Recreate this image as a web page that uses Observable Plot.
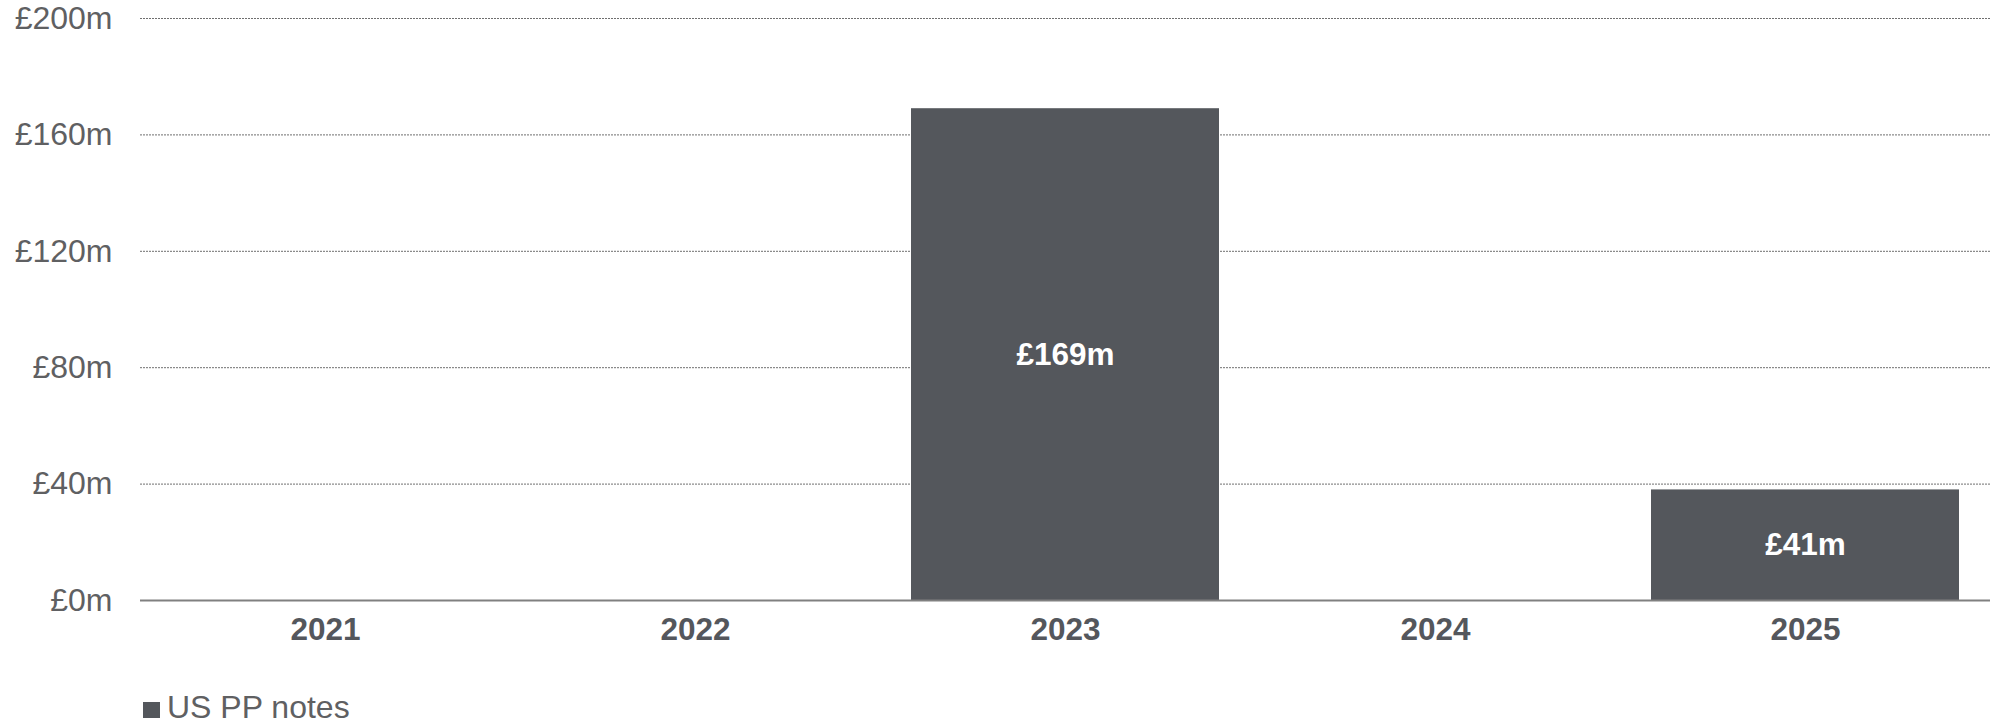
<!DOCTYPE html>
<html>
<head>
<meta charset="utf-8">
<script src="https://cdn.jsdelivr.net/npm/d3@7"></script>
<script src="https://cdn.jsdelivr.net/npm/@observablehq/plot@0.6"></script>
<style>
  html, body { margin: 0; padding: 0; background: #fff; }
  body { font-family: "Liberation Sans", Arial, sans-serif; width: 2003px; height: 723px; overflow: hidden; }
  #legend { position: absolute; left: 143px; top: 689px; display: flex; align-items: center; font-size: 32px; color: #5f6062; }
  #legend .sw { width: 17px; height: 16px; background: #54575c; margin-right: 7px; margin-top: 4px; }
</style>
</head>
<body>
<div id="chart"></div>
<div id="legend"><span class="sw"></span><span>US PP notes</span></div>
<script>
const years = ["2021", "2022", "2023", "2024", "2025"];
const values = [0, 0, 169, 0, 38];
const labels = ["", "", "£169m", "", "£41m"];
const yTicks = [0, 40, 80, 120, 160, 200];
const seriesName = "US PP notes";

const data = years.map((y, i) => ({year: y, value: values[i], label: labels[i], series: seriesName}));
const barData = data.filter(d => d.value > 0);

const chart = Plot.plot({
  width: 2003,
  height: 660,
  marginLeft: 140,
  marginRight: 13,
  marginTop: 18,
  marginBottom: 60,
  style: {fontFamily: "Liberation Sans, Arial, sans-serif", background: "#fff"},
  x: {domain: years, paddingInner: 0.168, paddingOuter: 0.084, label: null},
  y: {domain: [0, 200], label: null},
  marks: [
    Plot.ruleY(yTicks.filter(t => t > 0), {stroke: "#6f6f6f", strokeWidth: 1, strokeDasharray: "2,1"}),
    Plot.barY(barData, {x: "year", y: "value", fill: "#54575c"}),
    Plot.ruleY([0], {stroke: "#808080", strokeWidth: 2}),
    Plot.text(barData, {x: "year", y: d => d.value / 2, text: "label", fill: "#ffffff", fontWeight: "bold", fontSize: 31.5}),
    Plot.axisY({ticks: yTicks, tickFormat: d => `£${d}m`, tickSize: 0, tickPadding: 28, fontSize: 32, color: "#5f6062", label: null}),
    Plot.axisX({tickSize: 0, tickPadding: 17, fontSize: 31.5, fontWeight: "bold", color: "#54575c", label: null})
  ]
});
document.getElementById("chart").appendChild(chart);
</script>
</body>
</html>
